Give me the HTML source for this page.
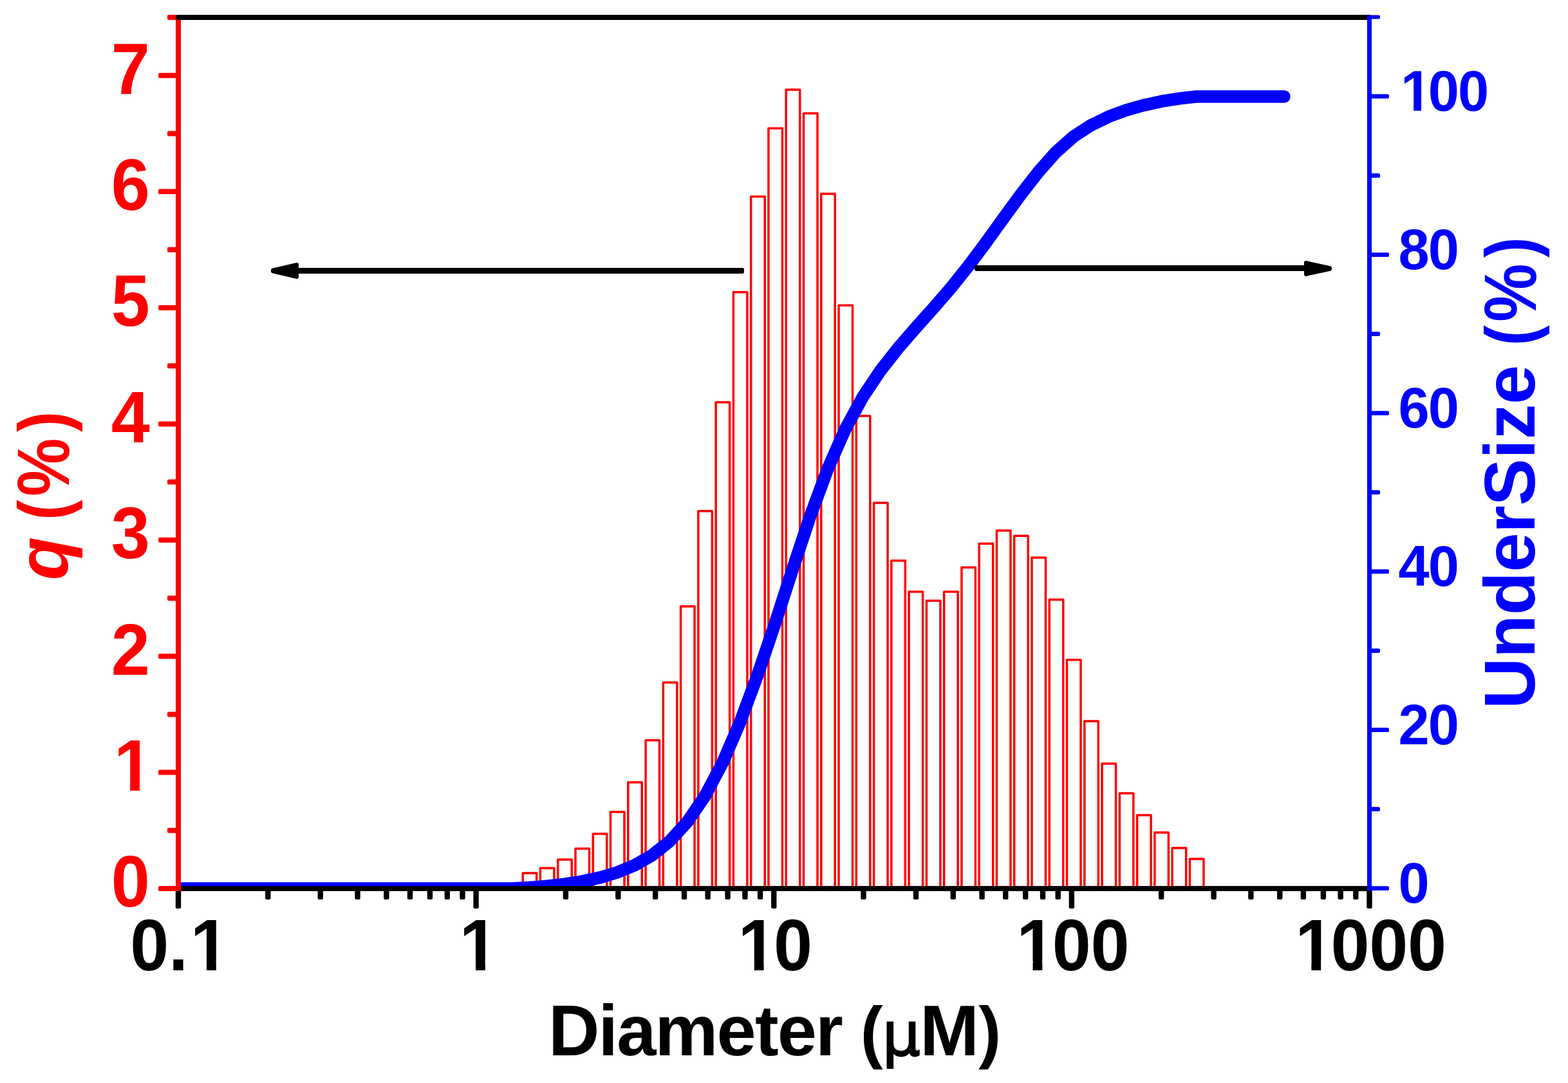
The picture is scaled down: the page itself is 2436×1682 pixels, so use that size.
<!DOCTYPE html>
<html lang="en"><head><meta charset="utf-8"><title>Particle size distribution</title>
<style>
html,body{margin:0;padding:0;background:#fff;}
body{width:2436px;height:1682px;overflow:hidden;}
svg{display:block;}
</style></head>
<body>
<svg width="2436" height="1682" viewBox="0 0 2436 1682" font-family="'Liberation Sans', sans-serif" font-weight="bold">
<rect width="2436" height="1682" fill="#ffffff"/>
<defs><clipPath id="plot"><rect x="277.0" y="27.0" width="1850.5" height="1353.0"/></clipPath></defs>
<g clip-path="url(#plot)">
<g fill="#ffffff" stroke="#ff0000" stroke-width="3.5" stroke-linejoin="round">
<rect x="812.17" y="1356.05" width="21.50" height="33.95"/>
<rect x="839.38" y="1348.15" width="21.50" height="41.85"/>
<rect x="866.72" y="1334.95" width="21.50" height="55.05"/>
<rect x="893.99" y="1318.05" width="21.50" height="71.95"/>
<rect x="921.27" y="1295.05" width="21.50" height="94.95"/>
<rect x="948.49" y="1261.05" width="21.50" height="128.95"/>
<rect x="975.78" y="1214.95" width="21.50" height="175.05"/>
<rect x="1003.07" y="1149.85" width="21.50" height="240.15"/>
<rect x="1030.31" y="1059.95" width="21.50" height="330.05"/>
<rect x="1057.58" y="941.75" width="21.50" height="448.25"/>
<rect x="1084.86" y="793.75" width="21.50" height="596.25"/>
<rect x="1112.14" y="624.75" width="21.50" height="765.25"/>
<rect x="1139.41" y="453.75" width="21.50" height="936.25"/>
<rect x="1166.68" y="305.25" width="21.50" height="1084.75"/>
<rect x="1193.94" y="199.25" width="21.50" height="1190.75"/>
<rect x="1221.21" y="139.25" width="21.50" height="1250.75"/>
<rect x="1248.48" y="175.95" width="21.50" height="1214.05"/>
<rect x="1275.75" y="300.95" width="21.50" height="1089.05"/>
<rect x="1303.02" y="474.15" width="21.50" height="915.85"/>
<rect x="1330.30" y="645.95" width="21.50" height="744.05"/>
<rect x="1357.56" y="780.95" width="21.50" height="609.05"/>
<rect x="1384.83" y="870.85" width="21.50" height="519.15"/>
<rect x="1412.10" y="919.05" width="21.50" height="470.95"/>
<rect x="1439.38" y="932.95" width="21.50" height="457.05"/>
<rect x="1466.64" y="919.05" width="21.50" height="470.95"/>
<rect x="1493.92" y="881.15" width="21.50" height="508.85"/>
<rect x="1521.19" y="844.25" width="21.50" height="545.75"/>
<rect x="1548.46" y="823.95" width="21.50" height="566.05"/>
<rect x="1575.73" y="832.15" width="21.50" height="557.85"/>
<rect x="1603.00" y="866.05" width="21.50" height="523.95"/>
<rect x="1630.27" y="931.15" width="21.50" height="458.85"/>
<rect x="1657.54" y="1024.85" width="21.50" height="365.15"/>
<rect x="1684.81" y="1120.05" width="21.50" height="269.95"/>
<rect x="1712.08" y="1186.05" width="21.50" height="203.95"/>
<rect x="1739.35" y="1231.95" width="21.50" height="158.05"/>
<rect x="1766.62" y="1265.95" width="21.50" height="124.05"/>
<rect x="1793.89" y="1292.95" width="21.50" height="97.05"/>
<rect x="1821.16" y="1317.05" width="21.50" height="72.95"/>
<rect x="1848.43" y="1333.95" width="21.50" height="56.05"/>
</g>
<path d="M-166.48,1380.00 L-132.91,1380.00 L-104.16,1380.00 L-79.01,1380.00 L-46.36,1380.00 L-18.28,1380.00 L6.35,1380.00 L35.10,1380.00 L60.25,1380.00 L87.82,1380.00 L112.05,1380.00 L141.71,1380.00 L167.56,1380.00 L196.54,1380.00 L221.86,1380.00 L249.02,1380.00 L277.00,1380.00 L305.08,1380.00 L331.25,1380.00 L358.46,1380.00 L385.96,1380.00 L413.23,1380.00 L440.82,1380.00 L468.20,1380.00 L495.03,1380.00 L522.28,1380.00 L549.93,1380.00 L576.95,1380.00 L604.34,1380.00 L631.56,1380.00 L658.86,1380.00 L686.07,1380.00 L713.26,1380.00 L740.63,1380.00 L767.88,1380.00 L795.10,1380.00 L822.42,1378.37 L849.63,1376.20 L876.97,1373.13 L904.24,1368.91 L931.52,1363.12 L958.74,1355.02 L986.03,1343.77 L1013.32,1328.09 L1040.56,1306.28 L1067.83,1276.42 L1095.11,1236.48 L1122.39,1185.02 L1149.66,1121.91 L1176.93,1048.69 L1204.19,968.24 L1231.46,883.70 L1258.73,801.67 L1286.00,728.15 L1313.27,666.43 L1340.55,616.42 L1367.81,575.60 L1395.08,540.91 L1422.35,509.51 L1449.63,479.05 L1476.89,447.64 L1504.17,413.65 L1531.44,377.15 L1558.71,339.26 L1585.98,301.94 L1613.25,266.92 L1640.52,236.34 L1667.79,212.14 L1695.06,194.43 L1722.33,181.22 L1749.60,171.13 L1776.87,163.36 L1804.14,157.43 L1831.41,153.14 L1858.68,150.00 L1885.95,150.00 L1913.22,150.00 L1940.49,150.00 L1967.76,150.00 L1995.03,150.00" fill="none" stroke="#0000ff" stroke-width="19.5" stroke-linejoin="round" stroke-linecap="round"/>
</g>
<rect x="458.00" y="416.00" width="698.00" height="9.0" rx="3" ry="3" fill="#000000"/>
<path d="M461.20,410.80 L423.80,419.60 L423.80,421.40 L461.20,430.20 Z" fill="#000000" stroke="#000000" stroke-width="5.6" stroke-linejoin="round"/>
<rect x="1514.00" y="412.00" width="518.00" height="9.0" rx="3" ry="3" fill="#000000"/>
<path d="M2028.80,407.80 L2066.20,416.10 L2066.20,417.90 L2028.80,426.20 Z" fill="#000000" stroke="#000000" stroke-width="5.6" stroke-linejoin="round"/>
<line x1="277.00" y1="1380.00" x2="2127.50" y2="1380.00" stroke="#000000" stroke-width="8.0" stroke-linecap="butt"/>
<rect x="272.80" y="1380.00" width="8.40" height="31.00" rx="2.2" ry="2.2" fill="#000000"/>
<rect x="412.06" y="1380.00" width="8.40" height="17.00" rx="2.2" ry="2.2" fill="#000000"/>
<rect x="493.53" y="1380.00" width="8.40" height="17.00" rx="2.2" ry="2.2" fill="#000000"/>
<rect x="551.33" y="1380.00" width="8.40" height="17.00" rx="2.2" ry="2.2" fill="#000000"/>
<rect x="596.16" y="1380.00" width="8.40" height="17.00" rx="2.2" ry="2.2" fill="#000000"/>
<rect x="632.79" y="1380.00" width="8.40" height="17.00" rx="2.2" ry="2.2" fill="#000000"/>
<rect x="663.76" y="1380.00" width="8.40" height="17.00" rx="2.2" ry="2.2" fill="#000000"/>
<rect x="690.59" y="1380.00" width="8.40" height="17.00" rx="2.2" ry="2.2" fill="#000000"/>
<rect x="714.26" y="1380.00" width="8.40" height="17.00" rx="2.2" ry="2.2" fill="#000000"/>
<rect x="735.42" y="1380.00" width="8.40" height="31.00" rx="2.2" ry="2.2" fill="#000000"/>
<rect x="874.69" y="1380.00" width="8.40" height="17.00" rx="2.2" ry="2.2" fill="#000000"/>
<rect x="956.15" y="1380.00" width="8.40" height="17.00" rx="2.2" ry="2.2" fill="#000000"/>
<rect x="1013.95" y="1380.00" width="8.40" height="17.00" rx="2.2" ry="2.2" fill="#000000"/>
<rect x="1058.79" y="1380.00" width="8.40" height="17.00" rx="2.2" ry="2.2" fill="#000000"/>
<rect x="1095.42" y="1380.00" width="8.40" height="17.00" rx="2.2" ry="2.2" fill="#000000"/>
<rect x="1126.39" y="1380.00" width="8.40" height="17.00" rx="2.2" ry="2.2" fill="#000000"/>
<rect x="1153.22" y="1380.00" width="8.40" height="17.00" rx="2.2" ry="2.2" fill="#000000"/>
<rect x="1176.88" y="1380.00" width="8.40" height="17.00" rx="2.2" ry="2.2" fill="#000000"/>
<rect x="1198.05" y="1380.00" width="8.40" height="31.00" rx="2.2" ry="2.2" fill="#000000"/>
<rect x="1337.31" y="1380.00" width="8.40" height="17.00" rx="2.2" ry="2.2" fill="#000000"/>
<rect x="1418.78" y="1380.00" width="8.40" height="17.00" rx="2.2" ry="2.2" fill="#000000"/>
<rect x="1476.58" y="1380.00" width="8.40" height="17.00" rx="2.2" ry="2.2" fill="#000000"/>
<rect x="1521.41" y="1380.00" width="8.40" height="17.00" rx="2.2" ry="2.2" fill="#000000"/>
<rect x="1558.04" y="1380.00" width="8.40" height="17.00" rx="2.2" ry="2.2" fill="#000000"/>
<rect x="1589.01" y="1380.00" width="8.40" height="17.00" rx="2.2" ry="2.2" fill="#000000"/>
<rect x="1615.84" y="1380.00" width="8.40" height="17.00" rx="2.2" ry="2.2" fill="#000000"/>
<rect x="1639.51" y="1380.00" width="8.40" height="17.00" rx="2.2" ry="2.2" fill="#000000"/>
<rect x="1660.67" y="1380.00" width="8.40" height="31.00" rx="2.2" ry="2.2" fill="#000000"/>
<rect x="1799.94" y="1380.00" width="8.40" height="17.00" rx="2.2" ry="2.2" fill="#000000"/>
<rect x="1881.40" y="1380.00" width="8.40" height="17.00" rx="2.2" ry="2.2" fill="#000000"/>
<rect x="1939.20" y="1380.00" width="8.40" height="17.00" rx="2.2" ry="2.2" fill="#000000"/>
<rect x="1984.04" y="1380.00" width="8.40" height="17.00" rx="2.2" ry="2.2" fill="#000000"/>
<rect x="2020.67" y="1380.00" width="8.40" height="17.00" rx="2.2" ry="2.2" fill="#000000"/>
<rect x="2051.64" y="1380.00" width="8.40" height="17.00" rx="2.2" ry="2.2" fill="#000000"/>
<rect x="2078.47" y="1380.00" width="8.40" height="17.00" rx="2.2" ry="2.2" fill="#000000"/>
<rect x="2102.13" y="1380.00" width="8.40" height="17.00" rx="2.2" ry="2.2" fill="#000000"/>
<rect x="2123.30" y="1380.00" width="8.40" height="31.00" rx="2.2" ry="2.2" fill="#000000"/>
<line x1="277.00" y1="23.00" x2="277.00" y2="1384.00" stroke="#ff0000" stroke-width="8.0" stroke-linecap="butt"/>
<rect x="246.00" y="1376.00" width="31.00" height="8.00" rx="2.2" ry="2.2" fill="#ff0000"/>
<rect x="260.00" y="1285.80" width="17.00" height="8.00" rx="2.2" ry="2.2" fill="#ff0000"/>
<rect x="246.00" y="1195.60" width="31.00" height="8.00" rx="2.2" ry="2.2" fill="#ff0000"/>
<rect x="260.00" y="1105.40" width="17.00" height="8.00" rx="2.2" ry="2.2" fill="#ff0000"/>
<rect x="246.00" y="1015.20" width="31.00" height="8.00" rx="2.2" ry="2.2" fill="#ff0000"/>
<rect x="260.00" y="925.00" width="17.00" height="8.00" rx="2.2" ry="2.2" fill="#ff0000"/>
<rect x="246.00" y="834.80" width="31.00" height="8.00" rx="2.2" ry="2.2" fill="#ff0000"/>
<rect x="260.00" y="744.60" width="17.00" height="8.00" rx="2.2" ry="2.2" fill="#ff0000"/>
<rect x="246.00" y="654.40" width="31.00" height="8.00" rx="2.2" ry="2.2" fill="#ff0000"/>
<rect x="260.00" y="564.20" width="17.00" height="8.00" rx="2.2" ry="2.2" fill="#ff0000"/>
<rect x="246.00" y="474.00" width="31.00" height="8.00" rx="2.2" ry="2.2" fill="#ff0000"/>
<rect x="260.00" y="383.80" width="17.00" height="8.00" rx="2.2" ry="2.2" fill="#ff0000"/>
<rect x="246.00" y="293.60" width="31.00" height="8.00" rx="2.2" ry="2.2" fill="#ff0000"/>
<rect x="260.00" y="203.40" width="17.00" height="8.00" rx="2.2" ry="2.2" fill="#ff0000"/>
<rect x="246.00" y="113.20" width="31.00" height="8.00" rx="2.2" ry="2.2" fill="#ff0000"/>
<rect x="260.00" y="23.00" width="17.00" height="8.00" rx="2.2" ry="2.2" fill="#ff0000"/>
<line x1="277.00" y1="27.00" x2="2127.50" y2="27.00" stroke="#000000" stroke-width="8.0" stroke-linecap="round"/>
<line x1="2127.50" y1="24.00" x2="2127.50" y2="1383.00" stroke="#0000ff" stroke-width="7.0" stroke-linecap="butt"/>
<rect x="2127.50" y="1376.25" width="30.50" height="6.70" rx="2.2" ry="2.2" fill="#0000ff"/>
<rect x="2127.50" y="1253.25" width="16.50" height="6.70" rx="2.2" ry="2.2" fill="#0000ff"/>
<rect x="2127.50" y="1130.25" width="30.50" height="6.70" rx="2.2" ry="2.2" fill="#0000ff"/>
<rect x="2127.50" y="1007.25" width="16.50" height="6.70" rx="2.2" ry="2.2" fill="#0000ff"/>
<rect x="2127.50" y="884.25" width="30.50" height="6.70" rx="2.2" ry="2.2" fill="#0000ff"/>
<rect x="2127.50" y="761.25" width="16.50" height="6.70" rx="2.2" ry="2.2" fill="#0000ff"/>
<rect x="2127.50" y="638.25" width="30.50" height="6.70" rx="2.2" ry="2.2" fill="#0000ff"/>
<rect x="2127.50" y="515.25" width="16.50" height="6.70" rx="2.2" ry="2.2" fill="#0000ff"/>
<rect x="2127.50" y="392.25" width="30.50" height="6.70" rx="2.2" ry="2.2" fill="#0000ff"/>
<rect x="2127.50" y="269.25" width="16.50" height="6.70" rx="2.2" ry="2.2" fill="#0000ff"/>
<rect x="2127.50" y="146.25" width="30.50" height="6.70" rx="2.2" ry="2.2" fill="#0000ff"/>
<rect x="2127.50" y="23.60" width="16.50" height="6.00" rx="2.2" ry="2.2" fill="#0000ff"/>
<g transform="translate(172.74,1408.40) scale(1,1.052)">
<text x="0" y="0" dx="-0.00" font-size="108.0" fill="#ff0000">0</text>
</g>
<g transform="translate(172.74,1228.00) scale(1,1.052)">
<text x="0" y="0" dx="4.17" font-size="108.0" fill="#ff0000">1</text>
<rect x="9.97" y="-14.24" width="19.41" height="15.82" fill="#ffffff"/>
<rect x="44.19" y="-14.24" width="18.62" height="15.82" fill="#ffffff"/>
</g>
<g transform="translate(172.74,1047.60) scale(1,1.052)">
<text x="0" y="0" dx="-0.00" font-size="108.0" fill="#ff0000">2</text>
</g>
<g transform="translate(172.74,867.20) scale(1,1.052)">
<text x="0" y="0" dx="-0.00" font-size="108.0" fill="#ff0000">3</text>
</g>
<g transform="translate(172.74,686.80) scale(1,1.052)">
<text x="0" y="0" dx="-0.00" font-size="108.0" fill="#ff0000">4</text>
</g>
<g transform="translate(172.74,506.40) scale(1,1.052)">
<text x="0" y="0" dx="-0.00" font-size="108.0" fill="#ff0000">5</text>
</g>
<g transform="translate(172.74,326.00) scale(1,1.052)">
<text x="0" y="0" dx="-0.00" font-size="108.0" fill="#ff0000">6</text>
</g>
<g transform="translate(172.74,145.60) scale(1,1.052)">
<text x="0" y="0" dx="-0.00" font-size="108.0" fill="#ff0000">7</text>
</g>
<g transform="translate(2172.60,1402.40) scale(1,1.025)">
<text x="0" y="0" dx="-0.00" font-size="86.6" fill="#0000ff">0</text>
</g>
<g transform="translate(2172.60,1156.40) scale(1,1.025)">
<text x="0" y="0" dx="-0.00 -1.95" font-size="86.6" fill="#0000ff">20</text>
</g>
<g transform="translate(2172.60,910.40) scale(1,1.025)">
<text x="0" y="0" dx="-0.00 -1.95" font-size="86.6" fill="#0000ff">40</text>
</g>
<g transform="translate(2172.60,664.40) scale(1,1.025)">
<text x="0" y="0" dx="-0.00 -1.95" font-size="86.6" fill="#0000ff">60</text>
</g>
<g transform="translate(2172.60,418.40) scale(1,1.025)">
<text x="0" y="0" dx="-0.00 -1.95" font-size="86.6" fill="#0000ff">80</text>
</g>
<g transform="translate(2172.60,172.40) scale(1,1.025)">
<text x="0" y="0" dx="3.34 -5.29 -1.95" font-size="86.6" fill="#0000ff">100</text>
<rect x="7.99" y="-11.42" width="15.56" height="12.69" fill="#ffffff"/>
<rect x="35.43" y="-11.42" width="13.99" height="12.69" fill="#ffffff"/>
</g>
<g transform="translate(202.33,1507.20) scale(1,1.052)">
<text x="0" y="0" dx="-0.00 -0.40 3.77" font-size="108.0" fill="#000000">0.1</text>
<rect x="99.24" y="-14.24" width="19.41" height="15.82" fill="#ffffff"/>
<rect x="133.46" y="-14.24" width="18.62" height="15.82" fill="#ffffff"/>
</g>
<g transform="translate(709.59,1507.20) scale(1,1.052)">
<text x="0" y="0" dx="4.17" font-size="108.0" fill="#000000">1</text>
<rect x="9.97" y="-14.24" width="19.41" height="15.82" fill="#ffffff"/>
<rect x="44.19" y="-14.24" width="18.62" height="15.82" fill="#ffffff"/>
</g>
<g transform="translate(1142.39,1507.20) scale(1,1.052)">
<text x="0" y="0" dx="4.17 -4.57" font-size="108.0" fill="#000000">10</text>
<rect x="9.97" y="-14.24" width="19.41" height="15.82" fill="#ffffff"/>
<rect x="44.19" y="-14.24" width="18.62" height="15.82" fill="#ffffff"/>
</g>
<g transform="translate(1575.18,1507.20) scale(1,1.052)">
<text x="0" y="0" dx="4.17 -4.57 -0.40" font-size="108.0" fill="#000000">100</text>
<rect x="9.97" y="-14.24" width="19.41" height="15.82" fill="#ffffff"/>
<rect x="44.19" y="-14.24" width="18.62" height="15.82" fill="#ffffff"/>
</g>
<g transform="translate(2007.97,1507.20) scale(1,1.052)">
<text x="0" y="0" dx="4.17 -4.57 -0.40 -0.40" font-size="108.0" fill="#000000">1000</text>
<rect x="9.97" y="-14.24" width="19.41" height="15.82" fill="#ffffff"/>
<rect x="44.19" y="-14.24" width="18.62" height="15.82" fill="#ffffff"/>
</g>
<text transform="translate(852.00,1639.00) scale(1,1.02)" font-size="110.0" fill="#000000" text-anchor="start" letter-spacing="-1.85">Diameter <tspan font-size="105">(</tspan><tspan font-family="'DejaVu Sans', sans-serif" font-weight="normal" font-size="93" stroke="#000" stroke-width="2.2" dx="1.1">µ</tspan><tspan dx="1.2">M</tspan><tspan font-size="105" dx="1">)</tspan></text>
<text transform="translate(105.00,901.00) rotate(-90) scale(1,1.02)" font-size="110.0" fill="#ff0000" text-anchor="start"><tspan font-style="italic">q</tspan> </text>
<text transform="translate(105.00,807.64) rotate(-90) scale(0.906,1.033)" fill="#ff0000" font-size="105"><tspan x="0" y="0">(</tspan><tspan x="40.68" y="2" font-size="112">%</tspan><tspan x="150.99" y="0">)</tspan></text>
<text transform="translate(2384.00,1101.00) rotate(-90) scale(1,1.02)" font-size="110.0" fill="#0000ff" text-anchor="start" letter-spacing="-0.47">UnderSize </text>
<text transform="translate(2384.00,536.70) rotate(-90) scale(0.906,1.033)" fill="#0000ff" font-size="105"><tspan x="0" y="0">(</tspan><tspan x="40.68" y="2" font-size="112">%</tspan><tspan x="150.99" y="0">)</tspan></text>
</svg>
</body></html>
